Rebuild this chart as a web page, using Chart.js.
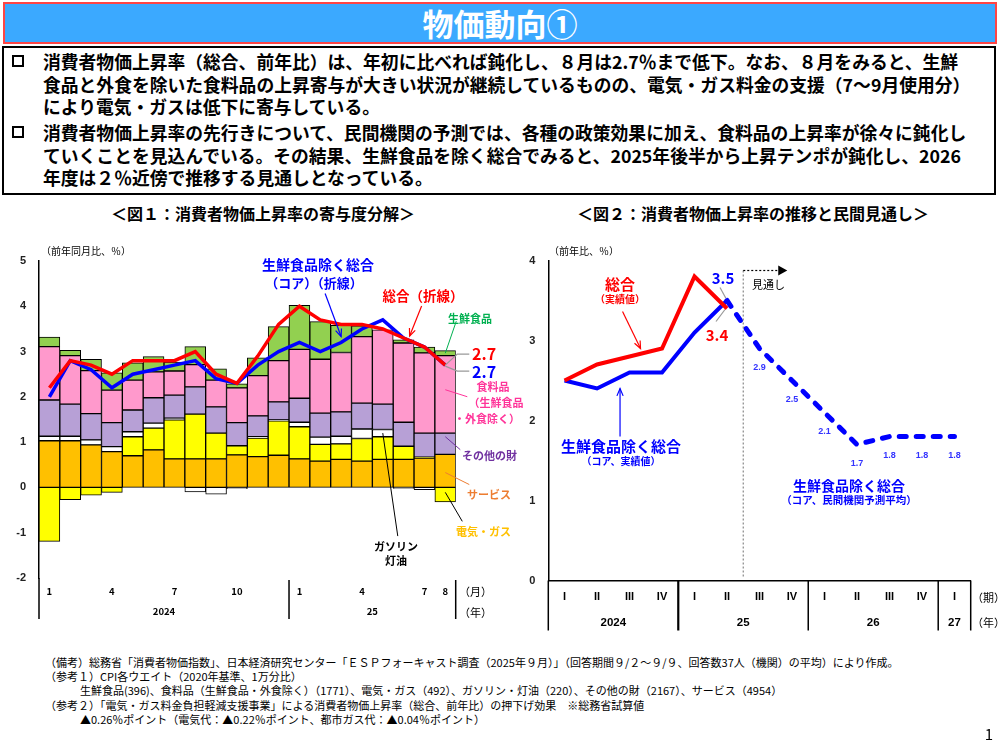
<!DOCTYPE html>
<html lang="ja">
<head>
<meta charset="utf-8">
<script src="https://cdn.jsdelivr.net/npm/chart.js@4.4.0/dist/chart.umd.min.js"></script>
<style>
  body { margin: 0; width: 1000px; height: 750px; position: relative; overflow: hidden; background: #fff;
         font-family: "Noto Sans CJK JP", "Noto Sans", sans-serif; color: #000; }
  .abs { position: absolute; white-space: nowrap; line-height: 1; }
  .c { transform: translate(-50%, -50%); }
  .l { transform: translate(0, -50%); }
  .b { font-weight: bold; }
  #title { position: absolute; left: 3px; top: 2px; width: 990px; height: 38px; background: #3BA9FF;
           border: 2px solid #FF4545; color: #fff; font-weight: bold; font-size: 31px; text-align: center; line-height: 38px; }
  #summary { position: absolute; left: 2px; top: 46px; width: 990px; height: 145px; border: 2.5px solid #000;
             font-weight: bold; font-size: 17.8px; line-height: 22.5px; }
  .para { position: relative; padding-left: 39px; white-space: nowrap; }
  .para + .para { margin-top: 3.5px; }
  .box { position: absolute; left: 8px; top: 5px; width: 8px; height: 8px; border: 2.5px solid #000; }
  canvas { position: absolute; }
  #notes { position: absolute; left: 45px; top: 655px; font-size: 11px; line-height: 14.2px; white-space: nowrap; }
</style>
</head>
<body>
<div id="title">物価動向①</div>
<div id="summary">
  <div class="para" style="margin-top:2px"><span class="box"></span>消費者物価上昇率（総合、前年比）は、年初に比べれば鈍化し、８月は2.7％まで低下。なお、８月をみると、生鮮<br>食品と外食を除いた食料品の上昇寄与が大きい状況が継続しているものの、電気・ガス料金の支援（7～9月使用分）<br>により電気・ガスは低下に寄与している。</div>
  <div class="para"><span class="box"></span>消費者物価上昇率の先行きについて、民間機関の予測では、各種の政策効果に加え、食料品の上昇率が徐々に鈍化し<br>ていくことを見込んでいる。その結果、生鮮食品を除く総合でみると、2025年後半から上昇テンポが鈍化し、2026<br>年度は２％近傍で推移する見通しとなっている。</div>
</div>

<div class="abs c b" style="left:263px;top:213px;font-size:16px">＜図１：消費者物価上昇率の寄与度分解＞</div>
<div class="abs c b" style="left:753px;top:213px;font-size:16px">＜図２：消費者物価上昇率の推移と民間見通し＞</div>

<canvas id="fig1" width="520" height="400" style="left:0;top:240px"></canvas>
<canvas id="fig2" width="500" height="400" style="left:500px;top:240px"></canvas>

<!-- figure 1 annotations -->
<div class="abs l" style="left:41px;top:251px;font-size:10px">（前年同月比、％）</div>
<div class="abs c b" style="left:318px;top:264px;font-size:14px;color:#0000FF">生鮮食品除く総合</div>
<div class="abs c b" style="left:314px;top:282px;font-size:13px;color:#0000FF">（コア）（折線）</div>
<div class="abs c b" style="left:423px;top:296px;font-size:13.5px;color:#FF0000">総合（折線）</div>
<div class="abs c b" style="left:470px;top:318px;font-size:11px;color:#00B050">生鮮食品</div>
<div class="abs l b" style="left:472px;top:353px;font-size:16px;color:#FF0000">2.7</div>
<div class="abs l b" style="left:472px;top:371px;font-size:16px;color:#0000FF">2.7</div>
<div class="abs c b" style="left:493px;top:386px;font-size:11px;color:#FF3399">食料品</div>
<div class="abs c b" style="left:496px;top:402px;font-size:11px;color:#FF3399">（生鮮食品</div>
<div class="abs c b" style="left:487px;top:418px;font-size:11px;color:#FF3399">・外食除く）</div>
<div class="abs l b" style="left:462px;top:455px;font-size:11px;color:#7030A0">その他の財</div>
<div class="abs l b" style="left:467px;top:494px;font-size:11px;color:#ED7D31">サービス</div>
<div class="abs l b" style="left:456px;top:531px;font-size:11px;color:#FFC000">電気・ガス</div>
<div class="abs c b" style="left:396px;top:546px;font-size:11px">ガソリン</div>
<div class="abs c b" style="left:396px;top:560px;font-size:11px">灯油</div>
<div class="abs l" style="left:459px;top:591px;font-size:11px">（月）</div>
<div class="abs l" style="left:459px;top:612px;font-size:11px">（年）</div>

<!-- figure 2 annotations -->
<div class="abs l" style="left:549px;top:251px;font-size:10px">（前年比、％）</div>
<div class="abs c b" style="left:620px;top:283px;font-size:15px;color:#FF0000">総合</div>
<div class="abs c b" style="left:620px;top:299px;font-size:10px;color:#FF0000">（実績値）</div>
<div class="abs c b" style="left:621px;top:445px;font-size:15px;color:#0000FF">生鮮食品除く総合</div>
<div class="abs c b" style="left:621px;top:461px;font-size:10px;color:#0000FF">（コア、実績値）</div>
<div class="abs c b" style="left:723px;top:277px;font-size:15px;color:#0000FF">3.5</div>
<div class="abs c b" style="left:717px;top:334px;font-size:15px;color:#FF0000">3.4</div>
<div class="abs l" style="left:752px;top:284px;font-size:11px">見通し</div>
<div class="abs c b" style="left:849px;top:485px;font-size:14px;color:#0000FF">生鮮食品除く総合</div>
<div class="abs c b" style="left:849px;top:500px;font-size:10.5px;color:#0000FF">（コア、民間機関予測平均）</div>
<div class="abs l" style="left:972px;top:597px;font-size:11px">（期）</div>
<div class="abs l" style="left:972px;top:622px;font-size:11px">（年）</div>

<div id="notes">（備考）総務省「消費者物価指数」、日本経済研究センター「ＥＳＰフォーキャスト調査（2025年９月）」（回答期間９/２～９/９、回答数37人（機関）の平均）により作成。<br>（参考１）CPI各ウエイト（2020年基準、1万分比）<br><span style="padding-left:35px">生鮮食品(396)、食料品（生鮮食品・外食除く）（1771）、電気・ガス（492）、ガソリン・灯油（220）、その他の財（2167）、サービス（4954）</span><br>（参考２）「電気・ガス料金負担軽減支援事業」による消費者物価上昇率（総合、前年比）の押下げ効果　※総務省試算値<br><span style="padding-left:35px">▲0.26％ポイント（電気代：▲0.22％ポイント、都市ガス代：▲0.04％ポイント）</span></div>
<div class="abs c" style="left:989px;top:733px;font-size:15px">1</div>

<script>
// ---- Figure 1: monthly contributions (Jan 2024 - Aug 2025) ----
const months = ["1","2","3","4","5","6","7","8","9","10","11","12","1","2","3","4","5","6","7","8"];
const shownMonths = [0, 3, 6, 9, 12, 15, 18, 19];
const monthYears = ["2024", "25"];
const monthYearSpans = [12, 8];

const services    = [1.03,1.03,0.94,0.79,0.70,0.83,0.63,0.63,0.63,0.72,0.68,0.71,0.63,0.58,0.62,0.58,0.62,0.62,0.65,0.73];
const energy      = [-1.19,-0.27,-0.17,-0.11,0.42,0.48,0.86,0.99,0.57,0.20,0.41,0.76,0.71,0.37,0.34,0.50,0.50,0.29,0.02,-0.32];
const gasoline    = [0.10,0.10,0.11,0.11,0.11,0.11,0.04,-0.10,-0.15,-0.03,0.03,0.02,0.10,0.16,0.17,0.21,0.16,-0.02,-0.05,0];
const otherGoods  = [0.80,0.71,0.58,0.53,0.48,0.56,0.51,0.60,0.58,0.51,0.46,0.40,0.53,0.53,0.54,0.57,0.56,0.53,0.53,0.47];
const foodExFresh = [1.18,1.07,0.95,0.72,0.66,0.57,0.53,0.49,0.59,0.77,0.89,0.91,1.08,1.19,1.31,1.47,1.64,1.75,1.77,1.71];
const freshFood   = [0.21,0.12,0.25,0.38,0.38,0.34,0.20,0.40,0.25,0.09,0.39,0.75,0.97,0.83,0.60,0.24,0,0.07,0.13,0.11];
const headline    = [2.2,2.8,2.7,2.5,2.8,2.8,2.8,3.0,2.5,2.3,2.9,3.6,4.0,3.7,3.6,3.6,3.5,3.3,3.1,2.7];
const core        = [2.0,2.8,2.6,2.2,2.5,2.6,2.7,2.8,2.4,2.3,2.7,3.0,3.2,3.0,3.2,3.5,3.7,3.3,3.1,2.7];

// ---- Figure 2: quarterly actuals and private forecasts ----
const quarters = ["I","II","III","IV","I","II","III","IV","I","II","III","IV","I"];
const quarterYears = ["2024", "25", "26", "27"];
const quarterYearSpans = [4, 4, 4, 1];
const headlineQ = [2.5,2.7,2.8,2.9,3.8,3.4,null,null,null,null,null,null,null];
const coreQ     = [2.5,2.4,2.6,2.6,3.1,3.5,null,null,null,null,null,null,null];
const forecastQ = [null,null,null,null,null,3.5,2.9,2.5,2.1,1.7,1.8,1.8,1.8];

const barSeries = [services, energy, gasoline, otherGoods, foodExFresh, freshFood];

Chart.defaults.font.family = "'Noto Sans CJK JP', 'Noto Sans', sans-serif";
Chart.defaults.color = "#000";

function line(ctx, pts, color, width, dash) {
    ctx.save();
    ctx.strokeStyle = color;
    ctx.lineWidth = width;
    ctx.setLineDash(dash || []);
    ctx.beginPath();
    pts.forEach((p, i) => (i ? ctx.lineTo(p[0], p[1]) : ctx.moveTo(p[0], p[1])));
    ctx.stroke();
    ctx.restore();
}

function arrow(ctx, x1, y1, x2, y2, color) {
    const ang = Math.atan2(y2 - y1, x2 - x1);
    const s = 8;
    line(ctx, [[x1, y1], [x2, y2]], color, 1.2);
    line(ctx, [
        [x2 - s * Math.cos(ang - 0.4), y2 - s * Math.sin(ang - 0.4)],
        [x2, y2],
        [x2 - s * Math.cos(ang + 0.4), y2 - s * Math.sin(ang + 0.4)],
    ], color, 1.2);
}

// pixel inside one stacked segment (k = series index, frac 0 = base, 1 = top)
function segPixel(yScale, k, idx, frac) {
    let pos = 0, neg = 0, base = 0, top = 0;
    for (let j = 0; j <= k; j++) {
        const v = barSeries[j][idx];
        if (v >= 0) { base = pos; pos += v; top = pos; }
        else { base = neg; neg += v; top = neg; }
    }
    return yScale.getPixelForValue(base + frac * (top - base));
}

function drawYearRow(ctx, xScale, names, spans, y, font) {
    ctx.save();
    ctx.font = font;
    ctx.textAlign = "center";
    ctx.textBaseline = "middle";
    ctx.fillStyle = "#000";
    let start = 0;
    names.forEach((name, i) => {
        const end = start + spans[i] - 1;
        ctx.fillText(name, (xScale.getPixelForValue(start) + xScale.getPixelForValue(end)) / 2, y);
        start = end + 1;
    });
    ctx.restore();
}

function groupEdges(xScale, spans) {
    const half = (xScale.getPixelForValue(1) - xScale.getPixelForValue(0)) / 2;
    let n = 0;
    return spans.map((s) => {
        n += s;
        return xScale.getPixelForValue(n - 1) + half;
    });
}

const fig1Decor = {
    id: "fig1Decor",
    afterDraw(chart) {
        const { ctx, chartArea: a } = chart;
        const x = chart.scales.x, y = chart.scales.y;
        const axisBottom = x.bottom;
        // axis extension and year separators
        line(ctx, [[a.left, a.bottom], [a.left, axisBottom]], "#000", 1.5);
        groupEdges(x, monthYearSpans).forEach((px) =>
            line(ctx, [[px, a.bottom + 2], [px, axisBottom]], "#000", 1.5));
        drawYearRow(ctx, x, monthYears, monthYearSpans, a.bottom + 33, "bold 9.5px 'Noto Sans CJK JP'");

        // arrows to the two lines
        const cTip = [x.getPixelForValue(14), y.getPixelForValue(core[14]) - 6];
        arrow(ctx, cTip[0] - 16, cTip[1] - 43, cTip[0], cTip[1], "#0000FF");
        const hTip = [x.getPixelForValue(17) + 6, y.getPixelForValue(headline[17]) - 2];
        arrow(ctx, hTip[0] + 12, hTip[1] - 30, hTip[0], hTip[1], "#FF0000");

        // leaders from the last values
        const last = months.length - 1;
        const lx = x.getPixelForValue(last);
        const ly = y.getPixelForValue(headline[last]);
        line(ctx, [[lx, ly], [lx + 12, ly - 11], [lx + 24, ly - 11]], "#999", 1.2);
        line(ctx, [[lx, ly + 1], [lx + 12, ly + 6], [lx + 24, ly + 6]], "#999", 1.2);

        // leaders from the last bar segments to their names
        const leaders = [
            [5, 0.5, 11, -32, "#00B050"],
            [4, 0.56, 22, 7, "#FF3399"],
            [3, 0.83, 15, 13, "#7030A0"],
            [0, 0.45, 24, 12, "#ED7D31"],
            [1, 0.34, 17, 29, "#000"],
        ];
        leaders.forEach(([k, f, dx, dy, col]) => {
            const sy = segPixel(y, k, last, f);
            line(ctx, [[lx, sy], [lx + dx, sy + dy]], col, 1);
        });
        const gy = segPixel(y, 2, 16, 0.5);
        const gx = x.getPixelForValue(16);
        line(ctx, [[gx, gy], [gx + 15, gy + 103]], "#000", 1);
    },
};

const barDefaults = { borderColor: "#000", borderWidth: 1, borderSkipped: false, stack: "bars",
                      categoryPercentage: 1, barPercentage: 1 };

new Chart(document.getElementById("fig1"), {
    type: "bar",
    data: {
        labels: months,
        datasets: [
            { type: "line", label: "総合", data: headline, borderColor: "#FF0000", borderWidth: 3.5,
              pointRadius: 0, tension: 0, stack: "l1" },
            { type: "line", label: "コア", data: core, borderColor: "#0000FF", borderWidth: 3.5,
              pointRadius: 0, tension: 0, stack: "l2" },
            { ...barDefaults, label: "サービス", data: services, backgroundColor: "#FFC000" },
            { ...barDefaults, label: "電気・ガス", data: energy, backgroundColor: "#FFFF00" },
            { ...barDefaults, label: "ガソリン・灯油", data: gasoline, backgroundColor: "#FFFFFF" },
            { ...barDefaults, label: "その他の財", data: otherGoods, backgroundColor: "#B7A0D6" },
            { ...barDefaults, label: "食料品", data: foodExFresh, backgroundColor: "#FF99CC" },
            { ...barDefaults, label: "生鮮食品", data: freshFood, backgroundColor: "#92D050" },
        ],
    },
    options: {
        responsive: false,
        animation: false,
        devicePixelRatio: 1,
        layout: { padding: { top: 21, right: 64.3, bottom: 21, left: 0 } },
        plugins: { legend: { display: false }, tooltip: { enabled: false } },
        scales: {
            x: {
                stacked: true,
                grid: { display: false, drawTicks: false },
                border: { display: false },
                afterFit: (s) => { s.height = 41; },
                ticks: {
                    autoSkip: false, maxRotation: 0, padding: 8,
                    font: { size: 9.5, weight: "bold" },
                    callback: (v, i) => (shownMonths.includes(i) ? months[i] : ""),
                },
            },
            y: {
                stacked: true,
                min: -2, max: 5,
                grid: { display: false, drawTicks: false },
                border: { display: true, color: "#000", width: 1.5 },
                afterFit: (s) => { s.width = 39; },
                ticks: { stepSize: 1, padding: 13, font: { size: 11, weight: "bold", family: "'Liberation Sans'" }, color: "#222" },
            },
        },
    },
    plugins: [fig1Decor],
});

const fig2Decor = {
    id: "fig2Decor",
    afterDraw(chart) {
        const { ctx, chartArea: a } = chart;
        const x = chart.scales.x, y = chart.scales.y;
        const axisBottom = x.bottom;
        line(ctx, [[a.left, a.bottom], [a.left, axisBottom]], "#000", 1.5);
        groupEdges(x, quarterYearSpans).forEach((px, i) =>
            line(ctx, [[px, a.bottom], [px, axisBottom]], "#000", i === 0 ? 2.2 : 1.5));
        drawYearRow(ctx, x, quarterYears, quarterYearSpans, a.bottom + 42, "bold 11.5px 'Liberation Sans'");

        // start of the forecast period
        const first = forecastQ.findIndex((v) => v !== null) + 1;
        const bx = (x.getPixelForValue(first - 1) + x.getPixelForValue(first)) / 2;
        line(ctx, [[bx, a.top + 10], [bx, a.bottom - 4]], "#888", 1.2, [2, 2]);
        line(ctx, [[bx, a.top + 10], [bx + 35, a.top + 10]], "#000", 1.2, [2, 2]);
        ctx.save();
        ctx.fillStyle = "#000";
        ctx.beginPath();
        ctx.moveTo(bx + 35, a.top + 5);
        ctx.lineTo(bx + 44, a.top + 10);
        ctx.lineTo(bx + 35, a.top + 15);
        ctx.closePath();
        ctx.fill();
        ctx.restore();

        // forecast value labels
        ctx.save();
        ctx.font = "bold 9px 'Liberation Sans'";
        ctx.fillStyle = "#3333FF";
        ctx.textAlign = "center";
        ctx.textBaseline = "middle";
        forecastQ.forEach((v, i) => {
            if (v === null || i < first) return;
            ctx.fillText(v.toFixed(1), x.getPixelForValue(i), y.getPixelForValue(v) + 19);
        });
        ctx.restore();

        // arrows to the actual lines
        const hTip = [x.getPixelForValue(2) + 11, y.getPixelForValue(headlineQ[2]) - 8];
        arrow(ctx, hTip[0] - 18, hTip[1] - 37, hTip[0], hTip[1], "#FF0000");
        const cTip = [x.getPixelForValue(1) + 23, y.getPixelForValue(coreQ[1])];
        arrow(ctx, cTip[0], cTip[1] + 48, cTip[0], cTip[1], "#0000FF");

        // leaders to the latest actual values
        const px = x.getPixelForValue(first - 1);
        const pc = y.getPixelForValue(coreQ[first - 1]);
        const ph = y.getPixelForValue(headlineQ[first - 1]);
        line(ctx, [[px - 7, pc - 13], [px - 1, pc - 2]], "#999", 1.2);
        line(ctx, [[px - 11, ph + 13], [px - 2, ph + 1]], "#999", 1.2);
    },
};

new Chart(document.getElementById("fig2"), {
    type: "line",
    data: {
        labels: quarters,
        datasets: [
            { label: "総合（実績値）", data: headlineQ, borderColor: "#FF0000", borderWidth: 4,
              pointRadius: 0, tension: 0 },
            { label: "コア（実績値）", data: coreQ, borderColor: "#0000FF", borderWidth: 4,
              pointRadius: 0, tension: 0 },
            { label: "コア（民間機関予測平均）", data: forecastQ, borderColor: "#0000FF", borderWidth: 5,
              borderDash: [7, 10], borderCapStyle: "round", pointRadius: 0, tension: 0 },
        ],
    },
    options: {
        responsive: false,
        animation: false,
        devicePixelRatio: 1,
        layout: { padding: { top: 20.5, right: 29.3, bottom: 9.5, left: 0 } },
        plugins: { legend: { display: false }, tooltip: { enabled: false } },
        scales: {
            x: {
                offset: true,
                grid: { display: false, drawTicks: false },
                border: { display: true, color: "#000", width: 1.5 },
                afterFit: (s) => { s.height = 50; },
                ticks: { autoSkip: false, maxRotation: 0, padding: 10, font: { size: 11, weight: "bold", family: "'Liberation Sans'" } },
            },
            y: {
                min: 0, max: 4,
                grid: { display: false, drawTicks: false },
                border: { display: true, color: "#000", width: 1.5 },
                afterFit: (s) => { s.width = 48.3; },
                ticks: { stepSize: 1, padding: 13, font: { size: 11, weight: "bold", family: "'Liberation Sans'" }, color: "#222" },
            },
        },
    },
    plugins: [fig2Decor],
});
</script>
</body>
</html>
